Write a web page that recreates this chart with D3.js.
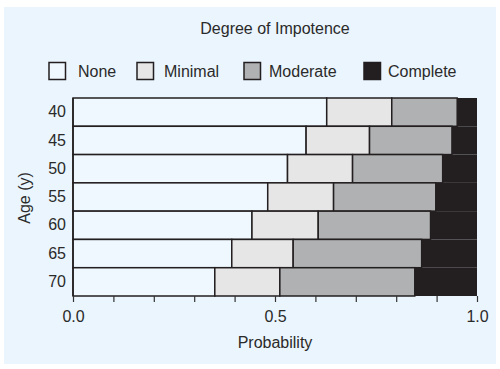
<!DOCTYPE html>
<html><head><meta charset="utf-8">
<script src="https://cdn.jsdelivr.net/npm/d3@7"></script>
<style>
html,body{margin:0;padding:0;background:#fff;}
text{font-family:"Liberation Sans",Arial,sans-serif;fill:#2a2a2a;}
</style></head>
<body><svg id="c" width="500" height="369"></svg>
<script>
const ages = ["40","45","50","55","60","65","70"];
const categories = ["None","Minimal","Moderate","Complete"];
const none     = [0.628,0.577,0.531,0.482,0.443,0.393,0.351];
const minimal  = [0.161,0.157,0.161,0.163,0.164,0.152,0.161];
const moderate = [0.162,0.204,0.223,0.253,0.278,0.318,0.334];
const complete = [0.049,0.062,0.085,0.102,0.115,0.137,0.154];
const colors = ["#eef8fe","#e6e6e6","#b0b1b3","#231f20"];
const xTicks = [0,0.1,0.2,0.3,0.4,0.5,0.6,0.7,0.8,0.9,1.0];
const xTickLabels = {0:"0.0",0.5:"0.5",1:"1.0"};

const svg = d3.select("#c");
svg.append("rect").attr("x",4).attr("y",7).attr("width",492).attr("height",357).attr("fill","#ebf5fd");

const x = d3.scaleLinear().domain([0,1]).range([73,477]);
const y = d3.scaleBand().domain(ages).range([98,296]).padding(0);

const stackData = ages.map((a,i)=>({age:a,None:none[i],Minimal:minimal[i],Moderate:moderate[i],Complete:complete[i]}));
const series = d3.stack().keys(categories)(stackData);

const g = svg.append("g");
series.forEach((s,si)=>{
  g.selectAll(null).data(s).enter().append("rect")
    .attr("x",d=>x(d[0])).attr("y",d=>y(d.data.age))
    .attr("width",d=>x(Math.min(d[1],1))-x(d[0])).attr("height",y.bandwidth())
    .attr("fill",colors[si])
    .attr("stroke", si===3 ? "none" : "#231f20").attr("stroke-width",1.5);
});
g.append("line").attr("x1",x(0)).attr("x2",x(0)).attr("y1",98).attr("y2",296).attr("stroke","#231f20").attr("stroke-width",1.5);

// x axis
const xAxis = d3.axisBottom(x).tickValues(xTicks).tickSize(6).tickFormat(d=>xTickLabels[d]||"");
const ax = svg.append("g").attr("transform","translate(0,296)").call(xAxis);
ax.select(".domain").remove();
ax.selectAll(".tick line").attr("stroke","#333").attr("stroke-width",1.2);
ax.selectAll(".tick text").attr("font-size",16).attr("dy","1.05em").attr("fill","#555").style("font-family","'Liberation Sans',Arial,sans-serif");

// y axis
const yAxis = d3.axisLeft(y).tickSize(0).tickPadding(7);
const ay = svg.append("g").attr("transform","translate(73,0)").call(yAxis);
ay.select(".domain").remove();
ay.selectAll(".tick text").attr("font-size",16).attr("fill","#444").style("font-family","'Liberation Sans',Arial,sans-serif");

svg.append("text").attr("x",275).attr("y",348).attr("text-anchor","middle").attr("font-size",16).text("Probability");
svg.append("text").attr("transform","translate(30,198) rotate(-90)").attr("text-anchor","middle").attr("font-size",16).text("Age (y)");
svg.append("text").attr("x",275).attr("y",34).attr("text-anchor","middle").attr("font-size",16).text("Degree of Impotence");

// legend
const legX = [49,137,244,364];
const legTX = [78,164,269,388];
categories.forEach((c,i)=>{
  svg.append("rect").attr("x",legX[i]).attr("y",62.5).attr("width",16.5).attr("height",17)
    .attr("fill",colors[i]).attr("stroke","#231f20").attr("stroke-width",1.5);
  svg.append("text").attr("x",legTX[i]).attr("y",77).attr("font-size",16).text(c);
});
</script></body></html>
